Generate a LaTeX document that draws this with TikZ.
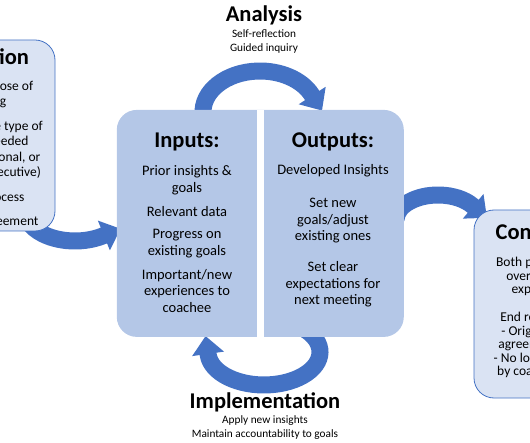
\documentclass[tikz,border=0pt]{standalone}
\usepackage{fontspec}
\setmainfont{Carlito}
\usepackage{tikz}
\usetikzlibrary{positioning,arrows.meta}

\definecolor{cycleblue}{HTML}{4472C4}
\definecolor{corefill}{HTML}{B4C7E7}
\definecolor{sidefill}{HTML}{DAE3F3}

\begin{document}
\begin{tikzpicture}[x=1pt, y=1pt,
    bigarrow/.style={draw=cycleblue, line width=17pt, -{Triangle[length=18pt, width=31pt]}},
    corebox/.style={fill=corefill, rounded corners=20pt, inner sep=0pt},
    sidebox/.style={draw=cycleblue, line width=0.8pt, fill=sidefill, rounded corners=20pt, inner sep=0pt},
    heading/.style={font=\bfseries\fontsize{22.5}{26}\selectfont, inner sep=0pt},
    note/.style={align=center, inner sep=0pt, font=\fontsize{11.3}{14}\selectfont},
    coretext/.style={align=center, inner sep=0pt, font=\fontsize{14.5}{16.5}\selectfont},
    sidetext/.style={align=center, inner sep=0pt, font=\fontsize{13.5}{15.3}\selectfont},
    conctext/.style={align=center, inner sep=0pt, font=\fontsize{13.5}{13.5}\selectfont}]

    \useasboundingbox (0,0) rectangle (530,442);
    \clip (0,0) rectangle (530,442);

    \coordinate (anaStart) at (203.08,327.85);
    \coordinate (implStart) at (300.0,115.3);
    \coordinate (prepStart) at (28.02,220.74);
    \coordinate (concStart) at (396.03,222.87);

    \draw[bigarrow] (anaStart) arc[start angle=183, end angle=25, x radius=57, y radius=41] -- ++(-57:19);
    \draw[bigarrow] (implStart) arc[start angle=50, end angle=-175, x radius=56, y radius=33] -- ++(98:19);
    \draw[bigarrow] (prepStart) arc[start angle=200, end angle=304, x radius=50, y radius=30] -- ++(22:19);
    \draw[bigarrow] (concStart) arc[start angle=178, end angle=35, x radius=42, y radius=25] -- ++(-40:19);

    \node[corebox, minimum width=287pt, minimum height=227pt] (core) at (260.3,218.6) {};
    \draw[white, line width=7.3pt] (core.north) -- (core.south);
    \node[sidebox, minimum width=145pt, minimum height=191pt] (prep) at (-17.5,306.5) {};
    \node[sidebox, minimum width=146pt, minimum height=188pt] (conc) at (547,138) {};

    \node[heading] (anaTitle) at (264,427) {Analysis};
    \node[note] (anaNote) at (264,401) {Self-reflection\\Guided inquiry};
    \node[heading] (implTitle) at (265,40) {Implementation};
    \node[note] (implNote) at (265,14) {Apply new insights\\Maintain accountability to goals};

    \node[heading] (inTitle) at (187,300) {Inputs:};
    \node[coretext] (in1) at (187,262) {Prior insights \&\\goals};
    \node[coretext] (in2) at (187,230) {Relevant data};
    \node[coretext] (in3) at (187,198.5) {Progress on\\existing goals};
    \node[coretext] (in4) at (187,151) {Important/new\\experiences to\\coachee};

    \node[heading] (outTitle) at (333,300) {Outputs:};
    \node[coretext] (out1) at (333,271) {Developed Insights};
    \node[coretext] (out2) at (333,221) {Set new\\goals/adjust\\existing ones};
    \node[coretext] (out3) at (333,157.5) {Set clear\\expectations for\\next meeting};

    \node[heading] (prepTitle) at (-26,384) {Preparation};
    \node[sidetext] (prep1) at (-18,347.5) {Discuss purpose of\\coaching};
    \node[sidetext] (prep2) at (-18,292) {Determine the type of\\coaching needed\\(skills, transitional, or\\leadership/executive)};
    \node[sidetext] (prep3) at (-18,244) {Discuss process};
    \node[sidetext] (prep4) at (-18,220) {Coaching agreement};

    \node[heading] (concTitle) at (546.5,210) {Conclusion};
    \node[conctext] (conc1) at (546.5,165.5) {Both parties agree\\overall goals \&\\expectations};
    \node[conctext] (conc2) at (546.5,97) {End relationship:\\- Original goal of\\agreement is met\\- No longer needed\\by coach/coachee};
\end{tikzpicture}
\end{document}
